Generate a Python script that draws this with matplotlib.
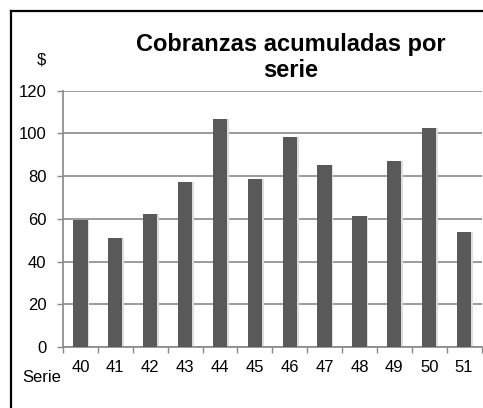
import matplotlib
matplotlib.use("Agg")
import matplotlib.pyplot as plt
from matplotlib.lines import Line2D
import numpy as np

plt.rcParams['font.family'] = ['Liberation Sans', 'DejaVu Sans']

categories = ["40", "41", "42", "43", "44", "45", "46", "47", "48", "49", "50", "51"]
values = [59.4, 50.9, 62.3, 77.2, 106.7, 78.8, 98.1, 85.0, 61.3, 87.2, 102.5, 53.9]
yticks = [0, 20, 40, 60, 80, 100, 120]
title_lines = ["Cobranzas acumuladas por", "serie"]
ylabel = "$"
xlabel = "Serie"

W, H = 483, 408
fig = plt.figure(figsize=(W / 100, H / 100), dpi=100)
ax = fig.add_axes([63 / W, 1 - 347 / H, (481.5 - 63) / W, (347 - 90.7) / H])

x = np.arange(len(categories))
# subtle shadow
ax.bar(x + 0.05, values, width=0.41, color="#dcdcdc", zorder=2)
ax.bar(x, values, width=0.41, color="#595959", zorder=3)

ax.set_xlim(-0.5, len(categories) - 0.5)
ax.set_ylim(0, 120)
ax.set_yticks(yticks)
ax.set_yticklabels([str(v) for v in yticks], fontsize=12)
ax.set_xticks(x)
ax.set_xticklabels(categories, fontsize=12)
ax.set_xticks(np.arange(-0.5, len(categories), 1), minor=True)
ax.tick_params(axis='x', which='major', length=0, pad=9)
ax.tick_params(axis='x', which='minor', length=4, width=1, color="#888888", direction='out')
ax.tick_params(axis='y', length=4, width=1, color="#888888", direction='out', pad=8)

ax.grid(axis='y', color="#8a8a8a", linewidth=1.2, zorder=1)
ax.set_axisbelow(True)
for s in ['top', 'right']:
    ax.spines[s].set_visible(False)
for s in ['left', 'bottom']:
    ax.spines[s].set_color("#888888")
    ax.spines[s].set_linewidth(1.2)

fig.text(291 / W, 1 - 51 / H, title_lines[0], ha='center', va='baseline', fontsize=17,
         fontweight='bold')
fig.text(291 / W, 1 - 77 / H, title_lines[1], ha='center', va='baseline', fontsize=17,
         fontweight='bold')
fig.text(41 / W, 1 - 64 / H, ylabel, ha='center', va='baseline', fontsize=12)
fig.text(22 / W, 1 - 382 / H, xlabel, ha='left', va='baseline', fontsize=12)

# outer border (clipped at right and bottom)
fig.add_artist(Line2D([11 / W, 1.0], [1 - 11 / H, 1 - 11 / H], color='black', linewidth=1.6,
                      transform=fig.transFigure))
fig.add_artist(Line2D([11 / W, 11 / W], [1 - 11 / H, 0.0], color='black', linewidth=1.6,
                      transform=fig.transFigure))

fig.savefig("out.png", dpi=100)
